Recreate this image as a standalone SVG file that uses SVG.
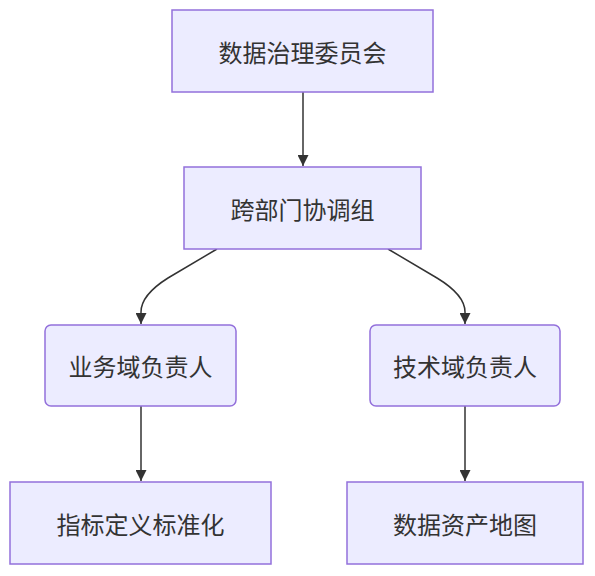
<svg xmlns="http://www.w3.org/2000/svg" width="595" height="576" viewBox="0 0 595 576">
<style>
.box{fill:#ECECFF;stroke:#9370DB;stroke-width:1.5}
.lbl{font-family:"Noto Sans CJK SC","Liberation Sans",sans-serif;font-size:24px;fill:#333;text-anchor:middle;dominant-baseline:central}
.edge{fill:none;stroke:#333;stroke-width:1.5}
</style>
<defs>
<marker id="arr" viewBox="0 0 10 10" refX="10" refY="5" markerWidth="12" markerHeight="11" markerUnits="userSpaceOnUse" orient="auto">
<path d="M0,0 L10,5 L0,10 z" fill="#333"/>
</marker>
</defs>
<rect width="595" height="576" fill="#fff"/>
<g id="edges">
<path class="edge" d="M303,92 L303,166" marker-end="url(#arr)"/>
<path class="edge" d="M217,249 L168,278 Q141,295 141,312 L141,324" marker-end="url(#arr)"/>
<path class="edge" d="M388,249 L437,278 Q465,295 465,312 L465,324" marker-end="url(#arr)"/>
<path class="edge" d="M141,406 L141,481" marker-end="url(#arr)"/>
<path class="edge" d="M465,406 L465,481" marker-end="url(#arr)"/>
</g>
<g id="n1"><rect class="box" x="172" y="10" width="261" height="82"/><text class="lbl" x="302.5" y="51">数据治理委员会</text></g>
<g id="n2"><rect class="box" x="184" y="167" width="237" height="82"/><text class="lbl" x="302.5" y="208">跨部门协调组</text></g>
<g id="n3"><rect class="box" x="45" y="325" width="191" height="81" rx="6"/><text class="lbl" x="140.5" y="365.5">业务域负责人</text></g>
<g id="n4"><rect class="box" x="370" y="325" width="190" height="81" rx="6"/><text class="lbl" x="465" y="365.5">技术域负责人</text></g>
<g id="n5"><rect class="box" x="10" y="482" width="261" height="82"/><text class="lbl" x="140.5" y="523">指标定义标准化</text></g>
<g id="n6"><rect class="box" x="347" y="482" width="236" height="82"/><text class="lbl" x="465" y="523">数据资产地图</text></g>
</svg>
